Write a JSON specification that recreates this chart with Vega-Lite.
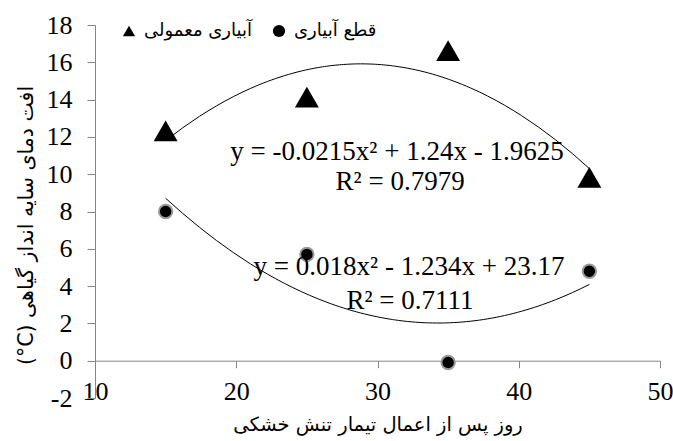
{
  "$schema": "https://vega.github.io/schema/vega-lite/v6.json",
  "width": 565,
  "height": 373,
  "autosize": {"type": "none"},
  "padding": {"left": 95, "top": 25, "right": 13, "bottom": 43},
  "background": "white",
  "config": {
    "view": {"stroke": null},
    "font": "Liberation Serif",
    "style": {"guide-label": {"font": "Liberation Serif", "fontSize": 26, "fill": "black"}}
  },
  "datasets": {
    "points": [
      {"day": 15, "value": 12.3, "series": "آبیاری معمولی"},
      {"day": 25, "value": 14.1, "series": "آبیاری معمولی"},
      {"day": 35, "value": 16.6, "series": "آبیاری معمولی"},
      {"day": 45, "value": 9.8, "series": "آبیاری معمولی"},
      {"day": 15, "value": 8.0, "series": "قطع آبیاری"},
      {"day": 25, "value": 5.7, "series": "قطع آبیاری"},
      {"day": 35, "value": -0.1, "series": "قطع آبیاری"},
      {"day": 45, "value": 4.8, "series": "قطع آبیاری"}
    ],
    "equations": [
      {"day": 31.38, "value": 11.2, "label": "y = -0.0215x² + 1.24x - 1.9625"},
      {"day": 31.6, "value": 9.6, "label": "R² = 0.7979"},
      {"day": 32.23, "value": 5.05, "label": "y = 0.018x² - 1.234x + 23.17"},
      {"day": 32.3, "value": 3.2, "label": "R² = 0.7111"}
    ]
  },
  "data": {"name": "points"},
  "encoding": {
    "x": {
      "field": "day",
      "type": "quantitative",
      "scale": {"domain": [10, 50], "nice": false, "zero": false},
      "axis": {
        "title": "روز پس از اعمال تیمار تنش خشکی",
        "values": [10, 20, 30, 40, 50],
        "offset": -37.3,
        "grid": false,
        "tickSize": 7,
        "labelPadding": 11,
        "labelFlush": false,
        "labelFont": {"expr": "'Liberation Serif'"},
        "labelFontSize": 26,
        "labelColor": "black",
        "domainColor": "#868686",
        "tickColor": "#868686",
        "titleFont": "DejaVu Sans",
        "titleFontSize": 19.5,
        "titleFontWeight": "normal",
        "titleColor": "black",
        "titlePadding": 11
      }
    },
    "y": {
      "field": "value",
      "type": "quantitative",
      "scale": {"domain": [-2, 18], "nice": false, "zero": false},
      "axis": {
        "title": "(°C) افت دمای سایه انداز گیاهی",
        "values": [-2, 0, 2, 4, 6, 8, 10, 12, 14, 16, 18],
        "labelExpr": "replace(datum.label, '−', '-')",
        "grid": false,
        "tickSize": 8,
        "labelPadding": 15,
        "labelFlush": false,
        "labelFont": {"expr": "'Liberation Serif'"},
        "labelFontSize": 26,
        "labelColor": "black",
        "domainColor": "#868686",
        "tickColor": "#868686",
        "titleFont": "DejaVu Sans",
        "titleFontSize": 20.5,
        "titleFontWeight": "normal",
        "titleColor": "black",
        "titlePadding": 10,
        "titleY": 200
      }
    }
  },
  "layer": [
    {
      "transform": [
        {"regression": "value", "on": "day", "groupby": ["series"], "method": "poly", "order": 2}
      ],
      "mark": {"type": "line", "color": "black", "strokeWidth": 1},
      "encoding": {"detail": {"field": "series"}}
    },
    {
      "mark": {"type": "point", "filled": true, "color": "black", "opacity": 1, "strokeWidth": 2},
      "encoding": {
        "shape": {
          "field": "series",
          "type": "nominal",
          "scale": {"domain": ["آبیاری معمولی", "قطع آبیاری"], "range": ["triangle-up", "circle"]},
          "legend": {
            "title": null,
            "orient": "none",
            "legendX": 25,
            "legendY": -3,
            "direction": "horizontal",
            "symbolSize": 150,
            "symbolFillColor": "black",
            "symbolStrokeWidth": 0,
            "labelFont": "DejaVu Sans",
            "labelFontSize": 18,
            "labelColor": "black",
            "labelOffset": 6,
            "columnPadding": 18
          }
        },
        "stroke": {
          "condition": {"test": "datum.series === 'قطع آبیاری'", "value": "#9a9a9a"},
          "value": "black"
        },
        "size": {
          "condition": {"test": "datum.series === 'قطع آبیاری'", "value": 180},
          "value": 420
        }
      }
    },
    {
      "data": {"name": "equations"},
      "mark": {"type": "text", "font": "Liberation Serif", "fontSize": 27, "baseline": "middle", "align": "center", "color": "black"},
      "encoding": {"text": {"field": "label", "type": "nominal"}}
    }
  ]
}
